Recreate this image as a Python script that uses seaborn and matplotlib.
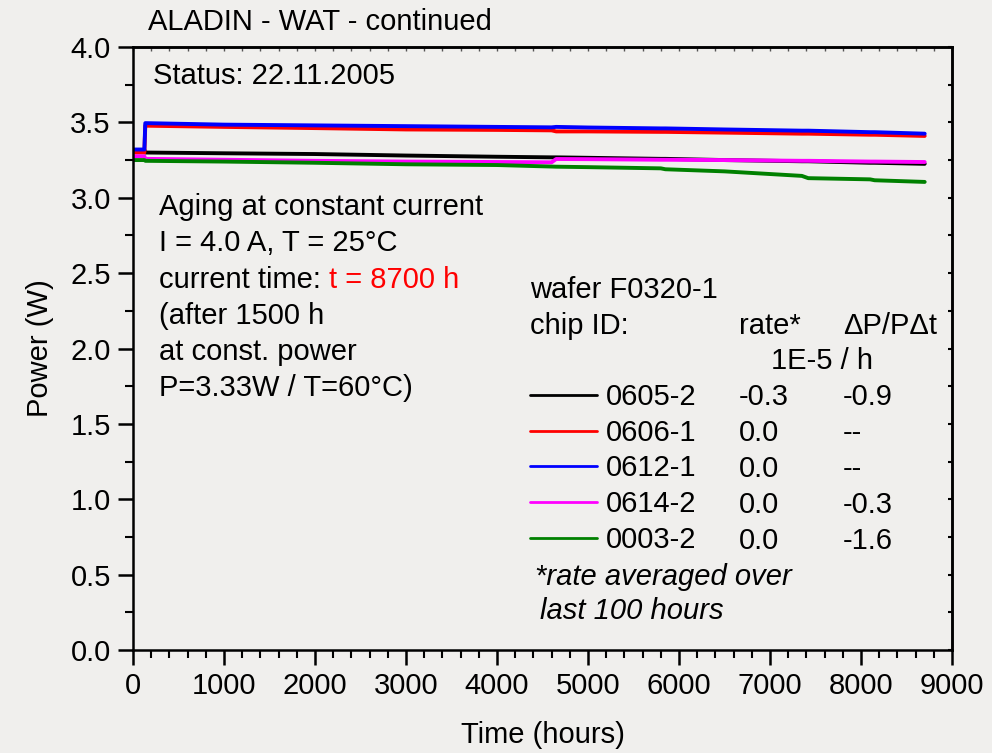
import matplotlib
matplotlib.use("Agg")
import matplotlib.pyplot as plt
from matplotlib.ticker import MultipleLocator, NullFormatter
import seaborn as sns
import pandas as pd

# ---- data ----
chips = ["0605-2", "0606-1", "0612-1", "0614-2", "0003-2"]
colors = ["#000000", "#ff0000", "#0000ff", "#ff00ff", "#008000"]
rates = ["-0.3", "0.0", "0.0", "0.0", "0.0"]
dpdt = ["-0.9", "--", "--", "-0.3", "-1.6"]

time_h = [0, 125, 135, 1000, 2000, 3000, 4000, 4600, 4650, 5000,
          5800, 5850, 6500, 7350, 7420, 8100, 8150, 8700]
p_0605_2 = [3.317, 3.317, 3.300, 3.295, 3.290, 3.280, 3.272, 3.268, 3.268, 3.265,
            3.258, 3.258, 3.250, 3.242, 3.242, 3.232, 3.232, 3.225]
p_0606_1 = [3.300, 3.300, 3.478, 3.470, 3.462, 3.453, 3.450, 3.447, 3.440, 3.440,
            3.437, 3.437, 3.432, 3.425, 3.425, 3.418, 3.418, 3.410]
p_0612_1 = [3.320, 3.320, 3.495, 3.485, 3.480, 3.475, 3.470, 3.467, 3.470, 3.466,
            3.460, 3.460, 3.453, 3.445, 3.445, 3.435, 3.435, 3.425]
p_0614_2 = [3.275, 3.275, 3.258, 3.252, 3.245, 3.240, 3.237, 3.235, 3.257, 3.256,
            3.252, 3.252, 3.250, 3.245, 3.245, 3.240, 3.240, 3.237]
p_0003_2 = [3.250, 3.250, 3.245, 3.240, 3.232, 3.222, 3.217, 3.207, 3.206, 3.203,
            3.195, 3.189, 3.175, 3.145, 3.130, 3.122, 3.116, 3.105]
series = [p_0605_2, p_0606_1, p_0612_1, p_0614_2, p_0003_2]

rows = []
for chip, vals in zip(chips, series):
    for t, v in zip(time_h, vals):
        rows.append({"time": t, "power": v, "chip": chip})
df = pd.DataFrame(rows)

# ---- style ----
bg = "#f0efed"
sns.set_theme(style="ticks")
plt.rcParams["font.family"] = ["Liberation Sans", "DejaVu Sans"]
plt.rcParams["axes.linewidth"] = 1.8
for k in ["text.color", "axes.labelcolor", "xtick.color", "ytick.color",
          "axes.edgecolor"]:
    plt.rcParams[k] = "black"
FS = 21

fig = plt.figure(figsize=(9.92, 7.53), dpi=100, facecolor=bg)
ax = fig.add_axes([133 / 992, 103 / 753, 819 / 992, 603 / 753])
ax.set_facecolor(bg)

sns.lineplot(data=df, x="time", y="power", hue="chip", hue_order=chips,
             palette=colors, estimator=None, sort=False, legend=False,
             linewidth=2.8, ax=ax)

ax.set_xlim(0, 9000)
ax.set_ylim(0, 4.0)
ax.xaxis.set_major_locator(MultipleLocator(1000))
ax.xaxis.set_minor_locator(MultipleLocator(200))
ax.yaxis.set_major_locator(MultipleLocator(0.5))
ax.yaxis.set_minor_locator(MultipleLocator(0.25))
ax.yaxis.set_major_formatter(plt.FuncFormatter(lambda v, p: f"{v:.1f}"))
ax.tick_params(axis="both", which="major", direction="out", length=11, width=1.8,
               labelsize=FS, colors="black", pad=5)
ax.tick_params(axis="both", which="minor", direction="out", length=6, width=1.5,
               colors="black")
for s in ax.spines.values():
    s.set_color("black")
    s.set_linewidth(1.8)

secx = ax.secondary_xaxis("top")
secx.xaxis.set_major_locator(MultipleLocator(200))
secx.xaxis.set_major_formatter(NullFormatter())
secx.tick_params(direction="in", length=3, width=1.0, colors="#555555")
secy = ax.secondary_yaxis("right")
secy.yaxis.set_major_locator(MultipleLocator(0.25))
secy.yaxis.set_major_formatter(NullFormatter())
secy.tick_params(direction="in", length=3, width=1.5, colors="black")

ax.set_xlabel("Time (hours)", fontsize=FS, labelpad=15, color="black")
ax.set_ylabel("Power (W)", fontsize=FS, labelpad=12, color="black")

# ---- texts ----
def px(x, y):
    return ((x - 133) / 819, (650 - y) / 603)

ax.text(*px(148, 22), "ALADIN - WAT - continued", transform=ax.transAxes,
        fontsize=FS, va="center", ha="left")
ax.text(*px(153, 76), "Status: 22.11.2005", transform=ax.transAxes,
        fontsize=FS, va="center", ha="left")

block = ["Aging at constant current", "I = 4.0 A, T = 25°C", "current time: ",
         "(after 1500 h", "at const. power", "P=3.33W / T=60°C)"]
y0 = 207
for i, line in enumerate(block):
    t = ax.text(*px(159, y0 + i * 36.3), line, transform=ax.transAxes,
                fontsize=FS, va="center", ha="left")
    if i == 2:
        ax.annotate("t = 8700 h", xycoords=t, xy=(1, 0.5), va="center",
                    ha="left", fontsize=FS, color="#ff0000")

ax.text(*px(530, 290), "wafer F0320-1", transform=ax.transAxes, fontsize=FS,
        va="center", ha="left")
ax.text(*px(530, 326), "chip ID:", transform=ax.transAxes, fontsize=FS,
        va="center", ha="left")
ax.text(*px(739, 326), "rate*", transform=ax.transAxes, fontsize=FS,
        va="center", ha="left")
ax.text(*px(843, 326), "ΔP/PΔt", transform=ax.transAxes, fontsize=FS,
        va="center", ha="left")
ax.text(*px(771, 361), "1E-5 / h", transform=ax.transAxes, fontsize=FS,
        va="center", ha="left")

handles = ax.get_lines()[:len(chips)]
leg = ax.legend(handles, chips, loc="upper left", bbox_to_anchor=px(530, 383),
                frameon=False, fontsize=FS, handlelength=2.3, handletextpad=0.3,
                labelspacing=0.265, borderpad=0, borderaxespad=0)
for lh in leg.get_lines():
    lh.set_linewidth(2.0)
for txt in leg.get_texts():
    txt.set_color("black")

for i, (r, d) in enumerate(zip(rates, dpdt)):
    yy = 397 + i * 36
    ax.text(*px(739, yy), r, transform=ax.transAxes, fontsize=FS,
            va="center", ha="left")
    ax.text(*px(843, yy), d, transform=ax.transAxes, fontsize=FS,
            va="center", ha="left")

ax.text(*px(535, 577), "*rate averaged over", transform=ax.transAxes,
        fontsize=FS, va="center", ha="left", style="italic")
ax.text(*px(540, 611), "last 100 hours", transform=ax.transAxes,
        fontsize=FS, va="center", ha="left", style="italic")

fig.savefig("out.png", dpi=100, facecolor=bg)
